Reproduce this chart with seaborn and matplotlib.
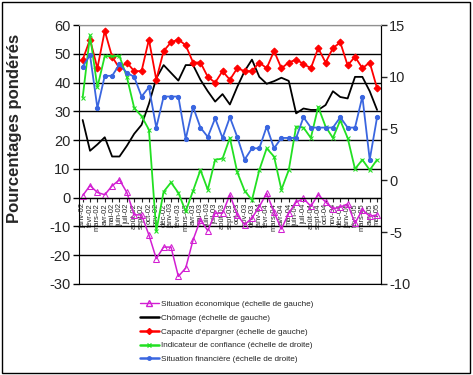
import numpy as np
import pandas as pd
import matplotlib
matplotlib.use('Agg')
import matplotlib.pyplot as plt
import matplotlib.patches as patches
from matplotlib.lines import Line2D
import seaborn as sns

# Monthly labels, janv-02 .. mai-05
mois = ['janv', 'févr', 'mars', 'avr', 'mai', 'juin', 'juil', 'août', 'sept', 'oct', 'nov', 'déc']
labels = [f'{m}-{a:02d}' for a in (2, 3, 4, 5) for m in mois][:41]

# Left-axis series
situation_eco = [0.7, 4.2, 1.8, 1.0, 4.1, 6.2, 1.8, -6.0, -6.0, -13.0,
                 -21.2, -17.2, -17.2, -27.4, -24.5, -14.7, -7.7, -11.5, -5.4, -5.4,
                 1.0, -6.0, -9.4, -7.1, -3.1, 1.5, -5.1, -10.9, -5.4, -1.6,
                 -0.3, -3.0, 1.0, -1.5, -3.9, -3.3, -2.2, -8.9, -4.2, -6.5, -6.0]
chomage = [27, 16.3, 18.5, 21, 14.3, 14.3, 18, 22.2, 25.3, 32.6,
           41.5, 46.1, 43.4, 40.7, 46.1, 46.1, 41, 37, 33.4, 36,
           32.4, 38.5, 44, 48, 42, 39.6, 40.5, 41.7, 40.6, 29.3,
           31, 30.5, 30.5, 32.2, 37, 35, 34.5, 42, 42, 37, 30.5]
capacite = [48, 55, 45, 58, 49, 45, 47, 44, 44, 55,
            41, 51, 54, 55, 53, 47, 47, 42, 40, 44,
            41, 45, 44, 44, 47, 45, 51, 45, 47, 48,
            46.5, 45, 52, 47, 52, 54, 46, 49, 45, 47, 38]

# Right-axis series
indicateur = [8.0, 14.0, 9.0, 12.0, 12.0, 12.0, 10.0, 7.0, 6.2, 4.9,
              -4.9, -1.1, -0.2, -1.2, -3.0, -1.0, 1.0, -0.9, 2.0, 2.1,
              4.1, 0.8, -1.0, -1.9, 1.0, 3.1, 2.3, -0.9, 1.0, 5.2,
              5.1, 4.1, 7.1, 5.2, 4.1, 5.8, 4.1, 1.1, 2.0, 1.0, 2.0]
situation_fin = [11.0, 12.1, 7.0, 10.1, 10.1, 11.2, 10.4, 10.0, 8.1, 9.0,
                 5.1, 8.1, 8.1, 8.1, 4.0, 7.1, 5.1, 4.2, 6.0, 4.1,
                 6.1, 4.2, 2.0, 3.1, 3.1, 5.2, 3.1, 4.1, 4.1, 4.1,
                 6.1, 5.1, 5.1, 5.1, 5.1, 6.1, 5.1, 5.1, 8.1, 2.0, 6.1]

noms = ['Situation économique (échelle de gauche)',
        'Chômage (échelle de gauche)',
        "Capacité d'épargner (échelle de gauche)",
        'Indicateur de confiance (échelle de droite)',
        'Situation financière (échelle de droite)']

df = pd.DataFrame({'x': np.arange(len(labels)), 'eco': situation_eco, 'cho': chomage,
                   'cap': capacite, 'ind': indicateur, 'fin': situation_fin})

sns.set_style('white')
plt.rcParams['font.family'] = ['Liberation Sans', 'DejaVu Sans']
plt.rcParams['axes.unicode_minus'] = False

magenta, rouge, vert, bleu = '#D21ED2', '#FF0000', '#22E022', '#3A66E0'

fig = plt.figure(figsize=(4.73, 3.75), dpi=100)
ax = fig.add_axes([0.167, 0.243, 0.638, 0.69])
ax2 = ax.twinx()

sns.lineplot(data=df, x='x', y='cho', ax=ax, color='black', lw=1.3, legend=False)
sns.lineplot(data=df, x='x', y='eco', ax=ax, color=magenta, lw=1.1, marker='^',
             markersize=5, markerfacecolor='none', markeredgecolor=magenta, legend=False)
sns.lineplot(data=df, x='x', y='cap', ax=ax, color=rouge, lw=1.3, marker='D',
             markersize=3.5, markeredgecolor=rouge, legend=False)
sns.lineplot(data=df, x='x', y='ind', ax=ax2, color=vert, lw=1.3, marker='x',
             markersize=3, markeredgecolor=vert, legend=False)
sns.lineplot(data=df, x='x', y='fin', ax=ax2, color=bleu, lw=1.3, marker='o',
             markersize=3, markeredgecolor=bleu, legend=False)

# left axis
ax.spines['bottom'].set_position(('data', 0))
ax.set_xlim(-0.5, len(labels) - 0.5)
ax.set_ylim(-30, 60)
ax.set_yticks(range(-30, 61, 10))
ax.tick_params(axis='y', labelsize=10.5, direction='out', length=4, width=1, color='black', left=True, pad=2)
ax.yaxis.grid(True, color='black', lw=1)
ax.yaxis.get_gridlines()[-1].set_color('#909090')
ax.set_axisbelow(True)
ax.set_xticks(df['x'])
ax.set_xticklabels(labels)
ax.tick_params(axis='x', direction='out', length=3, width=0.8, bottom=True, pad=1,
               labelrotation=90, labelsize=5.5)
ax.spines['bottom'].set_color('black')
ax.spines['left'].set_color('black')
ax.spines['top'].set_color('#909090')
ax.set_xlabel('')
ax.set_ylabel('Pourcentages pondérés', fontsize=12, fontweight='bold')
ax.yaxis.set_label_coords(-0.19, 0.60)

# right axis
ax2.set_ylim(-10, 15)
ax2.set_yticks(range(-10, 16, 5))
ax2.tick_params(axis='y', labelsize=10.5, direction='out', length=4, width=1, right=True, pad=2)
ax2.spines['right'].set_color('black')
ax2.spines['left'].set_visible(False)
ax2.spines['bottom'].set_color('black')
ax2.spines['top'].set_color('#909090')
ax2.set_ylabel('')

handles = [
    Line2D([], [], color=magenta, lw=1, marker='^', markersize=4, markerfacecolor='none'),
    Line2D([], [], color='black', lw=1.8),
    Line2D([], [], color=rouge, lw=1.8, marker='D', markersize=3),
    Line2D([], [], color=vert, lw=1.8, marker='x', markersize=3),
    Line2D([], [], color=bleu, lw=1.8, marker='o', markersize=2.5),
]
fig.legend(handles, noms, loc='upper left', bbox_to_anchor=(0.296, 0.2), frameon=False,
           fontsize=5.9, handlelength=2.3, handletextpad=0.3, labelspacing=0.75,
           borderaxespad=0, borderpad=0)

# chart border
fig.patches.append(patches.Rectangle((0.004, 0.006), 0.99, 0.99, transform=fig.transFigure,
                                     fill=False, edgecolor='black', lw=1))

fig.savefig('out.png', dpi=100)
